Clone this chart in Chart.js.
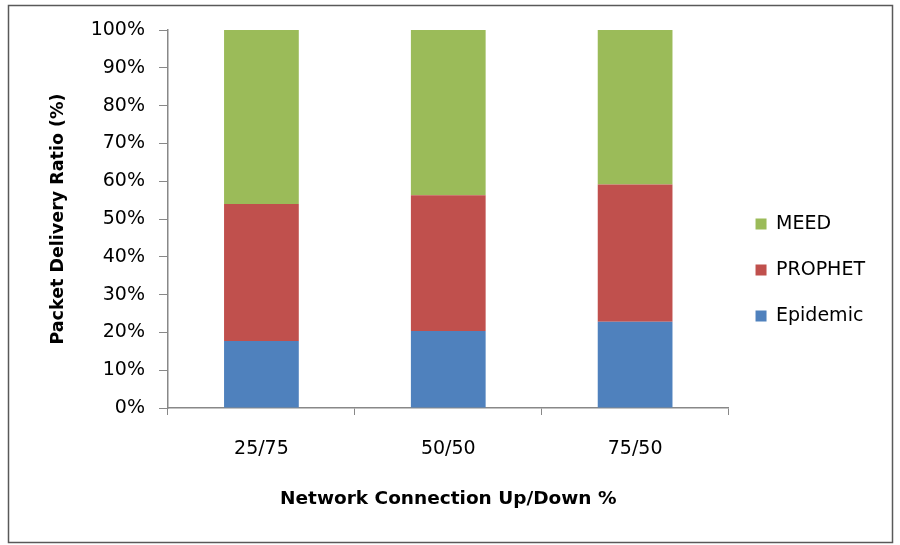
<!DOCTYPE html>
<html>
<head>
<meta charset="utf-8">
<script src="https://cdn.jsdelivr.net/npm/chart.js@4/dist/chart.umd.min.js"></script>
<style>
  body { margin: 0; background: #fff; }
  #wrap { width: 900px; height: 545px; }
</style>
</head>
<body>
<div id="wrap"><canvas id="pdrChart" width="900" height="545"></canvas></div>
<script>
// Data
const categories = ["25/75", "50/50", "75/50"];
const epidemic = [17.7, 20.4, 22.8];
const prophet = [36.3, 35.9, 36.3];
const meed = [46.0, 43.7, 40.9];
const yTicks = [0, 10, 20, 30, 40, 50, 60, 70, 80, 90, 100];

const FONT = "'DejaVu Sans', sans-serif";

// Outer frame like the Excel chart border
const framePlugin = {
    id: "frame",
    beforeDraw(chart) {
        const ctx = chart.ctx;
        ctx.save();
        ctx.fillStyle = "#fff";
        ctx.fillRect(0, 0, chart.width, chart.height);
        ctx.strokeStyle = "#595959";
        ctx.lineWidth = 1.5;
        ctx.strokeRect(8.5, 5.5, 884, 537);
        ctx.restore();
    }
};

const ctx = document.getElementById("pdrChart").getContext("2d");
new Chart(ctx, {
    type: "bar",
    data: {
        labels: categories,
        datasets: [
            { label: "Epidemic", data: epidemic, backgroundColor: "#4f81bd" },
            { label: "PROPHET", data: prophet, backgroundColor: "#c0504d" },
            { label: "MEED", data: meed, backgroundColor: "#9bbb59" }
        ]
    },
    options: {
        responsive: false,
        animation: false,
        layout: { padding: { left: 48, top: 30, right: 25, bottom: 35 } },
        datasets: { bar: { categoryPercentage: 1, barPercentage: 0.4 } },
        plugins: {
            legend: {
                position: "right",
                reverse: true,
                labels: {
                    color: "#000",
                    font: { family: FONT, size: 19 },
                    boxWidth: 11,
                    boxHeight: 11,
                    padding: 27
                }
            },
            tooltip: { enabled: false }
        },
        scales: {
            x: {
                stacked: true,
                grid: {
                    offset: true,
                    drawOnChartArea: false,
                    tickLength: 7,
                    color: "#888"
                },
                border: { color: "#888", width: 1.5 },
                ticks: { color: "#000", font: { family: FONT, size: 19 }, padding: 23 },
                title: {
                    display: true,
                    text: "Network Connection Up/Down %",
                    color: "#000",
                    font: { family: FONT, size: 18.5, weight: "bold" },
                    padding: 0
                },
                afterFit(scale) { scale.height = 102; }
            },
            y: {
                stacked: true,
                min: 0,
                max: 100,
                afterBuildTicks(scale) { scale.ticks = yTicks.map(v => ({ value: v })); },
                grid: {
                    drawOnChartArea: false,
                    tickLength: 9,
                    color: "#888"
                },
                border: { color: "#888", width: 1.5 },
                ticks: {
                    color: "#000",
                    font: { family: FONT, size: 19 },
                    padding: 14,
                    callback: v => v + "%"
                },
                title: {
                    display: true,
                    text: "Packet Delivery Ratio (%)",
                    color: "#000",
                    font: { family: FONT, size: 17.5, weight: "bold" },
                    padding: 0
                },
                afterFit(scale) { scale.width = 120; }
            }
        }
    },
    plugins: [framePlugin]
});
</script>
</body>
</html>
